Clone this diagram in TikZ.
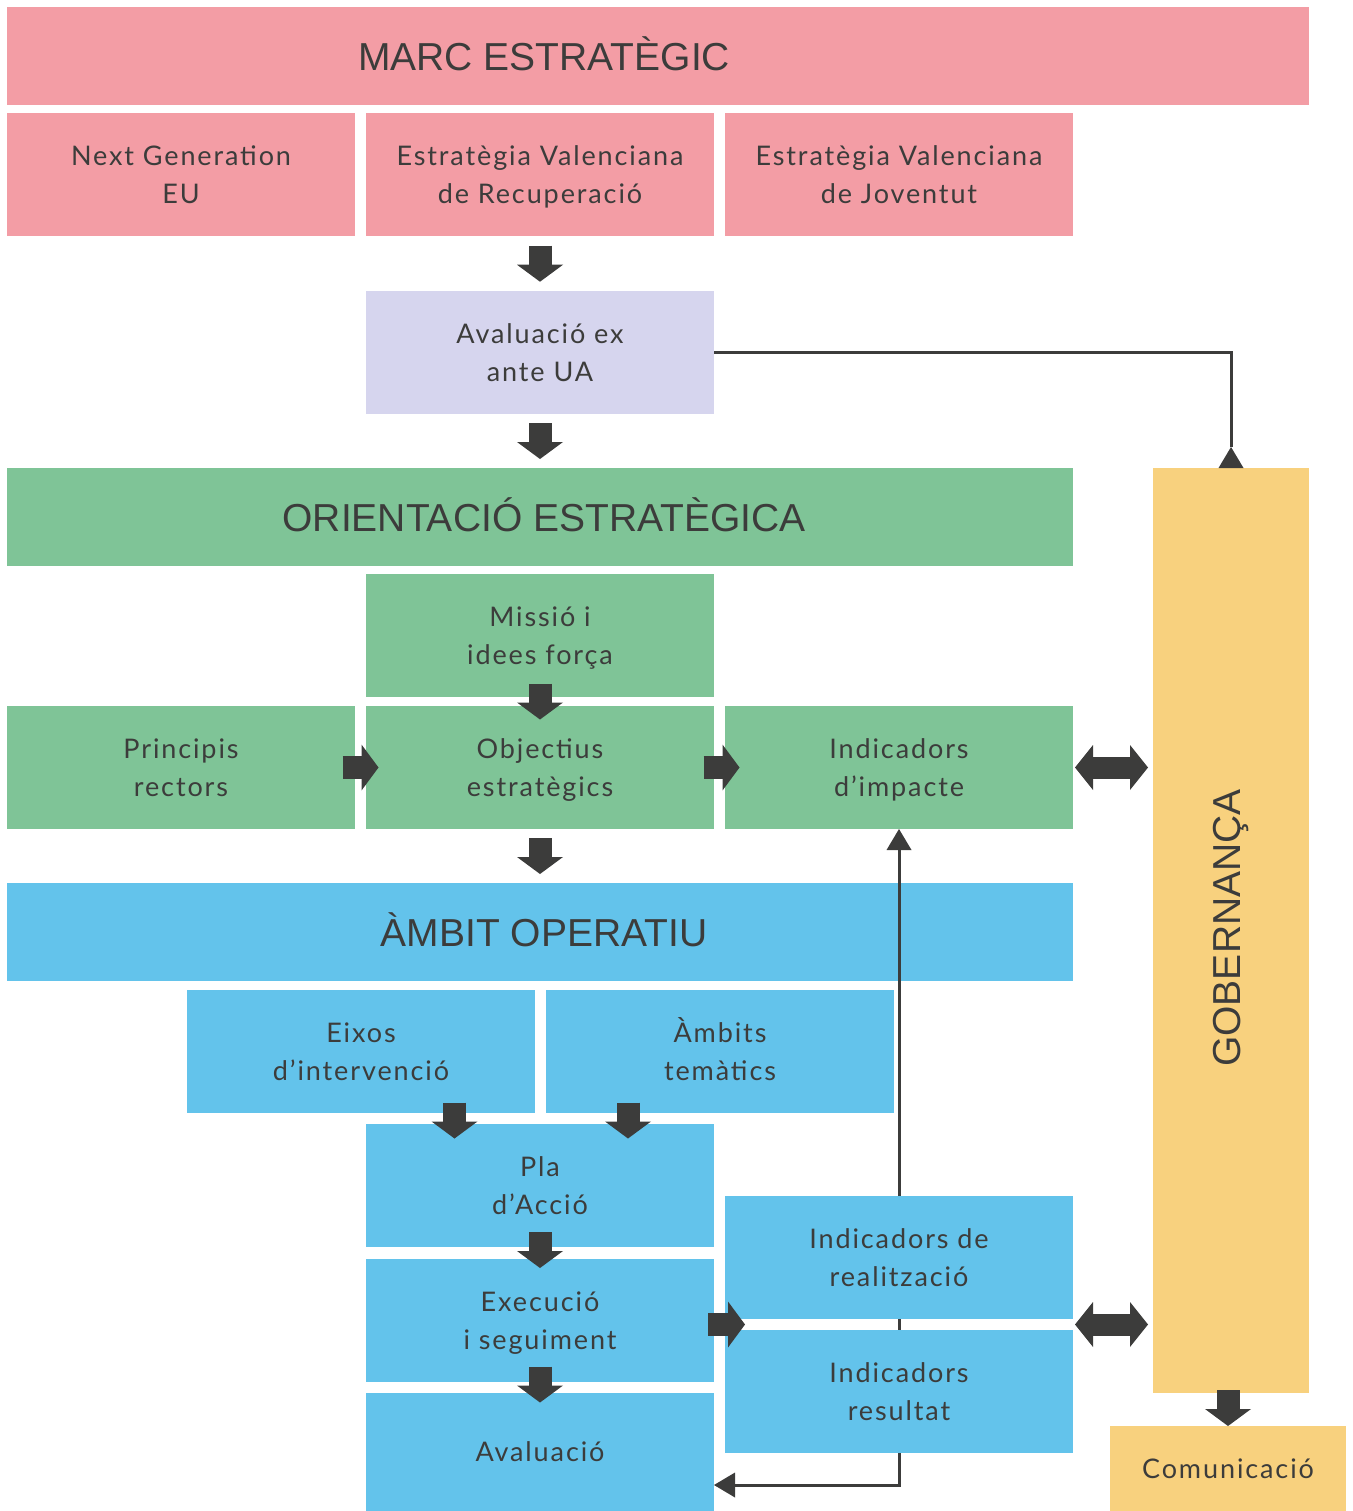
\documentclass[tikz,border=0pt]{standalone}
\usepackage{fontspec}
\setmainfont{Lato}[LetterSpace=7]
\newfontfamily\hdrfont{Liberation Sans}
\usetikzlibrary{arrows.meta,calc}
\definecolor{cpink}{HTML}{F39DA5}
\definecolor{clav}{HTML}{D6D5EE}
\definecolor{cgreen}{HTML}{7FC497}
\definecolor{cblue}{HTML}{63C3EB}
\definecolor{cyellow}{HTML}{F8D17E}
\definecolor{cdark}{HTML}{3C3C3B}
\newcommand\lnst{\rule[-6.5pt]{0pt}{32.5pt}}
\tikzset{
  box/.style={rectangle, inner sep=0pt, outer sep=0pt, minimum width=348pt, minimum height=123pt,
    align=center, text=cdark, font=\fontsize{27}{37.5}\selectfont},
  wide/.style={box, minimum width=1066pt, minimum height=98pt},
  hdr/.style={inner sep=0pt, text=cdark, font=\hdrfont\fontsize{39}{45}\selectfont},
  blockarrow/.style={draw=cdark, line width=23pt, -{Triangle[width=46pt,length=17pt,line width=0pt]}},
  dblarrow/.style={draw=cdark, line width=22pt, {Triangle[width=45pt,length=18pt,line width=0pt]}-{Triangle[width=45pt,length=18pt,line width=0pt]}},
  thinline/.style={draw=cdark, line width=3pt},
  thinarrow/.style={thinline, -{Triangle[width=25pt,length=21pt,line width=0pt]}},
  thinback/.style={thinline, -{Triangle[reversed,width=25pt,length=21pt,line width=0pt]}},
}
\begin{document}
\begin{tikzpicture}[x=1pt,y=-1pt]
\useasboundingbox (0,0) rectangle (1352,1511);
% Marc estrategic
\node[wide, fill=cpink, minimum width=1302pt] (marc) at (658,56) {};
\node[hdr] (marctxt) at (544,54) {MARC ESTRATÈGIC};
\node[box, fill=cpink] (ng) at (181,175) {\lnst Next Generation\\\lnst EU};
\node[box, fill=cpink] (evr) at (540,175) {\lnst Estratègia Valenciana\\\lnst de Recuperació};
\node[box, fill=cpink] (evj) at (899,175) {\lnst Estratègia Valenciana\\\lnst de Joventut};
\node[box, fill=clav] (exante) at (540,352.5) {\lnst Avaluació ex\\\lnst ante UA};
% Orientacio
\node[wide, fill=cgreen] (orient) at (540,517) {};
\node[hdr] (orienttxt) at (544,515) {ORIENTACIÓ ESTRATÈGICA};
\node[box, fill=cgreen] (missio) at (540,635.5) {\lnst Missió i\\\lnst idees força};
\node[box, fill=cgreen] (princ) at (181,767.5) {\lnst Principis\\\lnst rectors};
\node[box, fill=cgreen] (obj) at (540,767.5) {\lnst Objectius\\\lnst estratègics};
\node[box, fill=cgreen] (indimp) at (899,767.5) {\lnst Indicadors\\\lnst d’impacte};
% Ambit operatiu
\node[wide, fill=cblue] (ambit) at (540,932) {};
\node[hdr] (ambittxt) at (544,930) {ÀMBIT OPERATIU};
\node[box, fill=cblue] (eixos) at (361,1051.5) {\lnst Eixos\\\lnst d’intervenció};
\node[box, fill=cblue] (ambits) at (720,1051.5) {\lnst Àmbits\\\lnst temàtics};
\node[box, fill=cblue] (pla) at (540,1185.5) {\lnst Pla\\\lnst d’Acció};
\node[box, fill=cblue] (exec) at (540,1320.5) {\lnst Execució\\\lnst i seguiment};
\node[box, fill=cblue, minimum height=118pt] (aval) at (540,1452) {\lnst Avaluació};
\node[box, fill=cblue] (indreal) at (899,1257.5) {\lnst Indicadors de\\\lnst realització};
\node[box, fill=cblue] (indres) at (899,1391.5) {\lnst Indicadors\\\lnst resultat};
% Governanca
\node[box, fill=cyellow, minimum width=156pt, minimum height=925pt] (gob) at (1231,930.5) {};
\node[hdr, rotate=90] (gobtxt) at (1231,928) {GOBERNANÇA};
\node[box, fill=cyellow, minimum width=236pt, minimum height=85pt] (com) at (1228,1468.5) {\lnst Comunicació};
% thin connectors
\draw[thinback] (exante.east) -| (gob.north);
\draw[thinarrow] (indreal.north) -- (indimp.south);
\draw[thinline] (indreal.south) -- (indres.north);
\draw[thinarrow] (indres.south) |- ($(aval.east)+(0,33)$);
% block arrows
\draw[blockarrow] ($($(evr.south)!0.5!(exante.north)$)+(0,-18)$) -- ($($(evr.south)!0.5!(exante.north)$)+(0,18)$);
\draw[blockarrow] ($($(exante.south)!0.5!(orient.north)$)+(0,-18)$) -- ($($(exante.south)!0.5!(orient.north)$)+(0,18)$);
\draw[blockarrow] ($($(missio.south)!0.5!(obj.north)$)+(0,-18)$) -- ($($(missio.south)!0.5!(obj.north)$)+(0,18)$);
\draw[blockarrow] ($($(princ.east)!0.5!(obj.west)$)+(-18,0)$) -- ($($(princ.east)!0.5!(obj.west)$)+(18,0)$);
\draw[blockarrow] ($($(obj.east)!0.5!(indimp.west)$)+(-16,0)$) -- ($($(obj.east)!0.5!(indimp.west)$)+(20,0)$);
\draw[blockarrow] ($($(obj.south)!0.5!(ambit.north)$)+(0,-18)$) -- ($($(obj.south)!0.5!(ambit.north)$)+(0,18)$);
\draw[blockarrow] ($($(eixos.south)!0.5!(pla.north)$)+(4,-16)$) -- ($($(eixos.south)!0.5!(pla.north)$)+(4,20)$);
\draw[blockarrow] ($($(ambits.south)!0.5!(pla.north)$)+(-2,-16)$) -- ($($(ambits.south)!0.5!(pla.north)$)+(-2,20)$);
\draw[blockarrow] ($($(pla.south)!0.5!(exec.north)$)+(0,-21)$) -- ($($(pla.south)!0.5!(exec.north)$)+(0,15)$);
\draw[blockarrow] ($($(exec.south)!0.5!(aval.north)$)+(0,-21)$) -- ($($(exec.south)!0.5!(aval.north)$)+(0,15)$);
\draw[blockarrow] ($(exec.east)+(-6,4)$) -- ($(exec.east)+(31,4)$);
\draw[dblarrow] ($(indimp.east)+(2,0)$) -- ($(gob.west |- indimp.east)+(-5,0)$);
\draw[dblarrow] ($($(indreal.south east)!0.5!(indres.north east)$)+(2,0)$) -- ($(gob.west |- {$(indreal.south east)!0.5!(indres.north east)$})+(-5,0)$);
\draw[blockarrow] ($(com.north)+(0,-36)$) -- (com.north);
\end{tikzpicture}
\end{document}
